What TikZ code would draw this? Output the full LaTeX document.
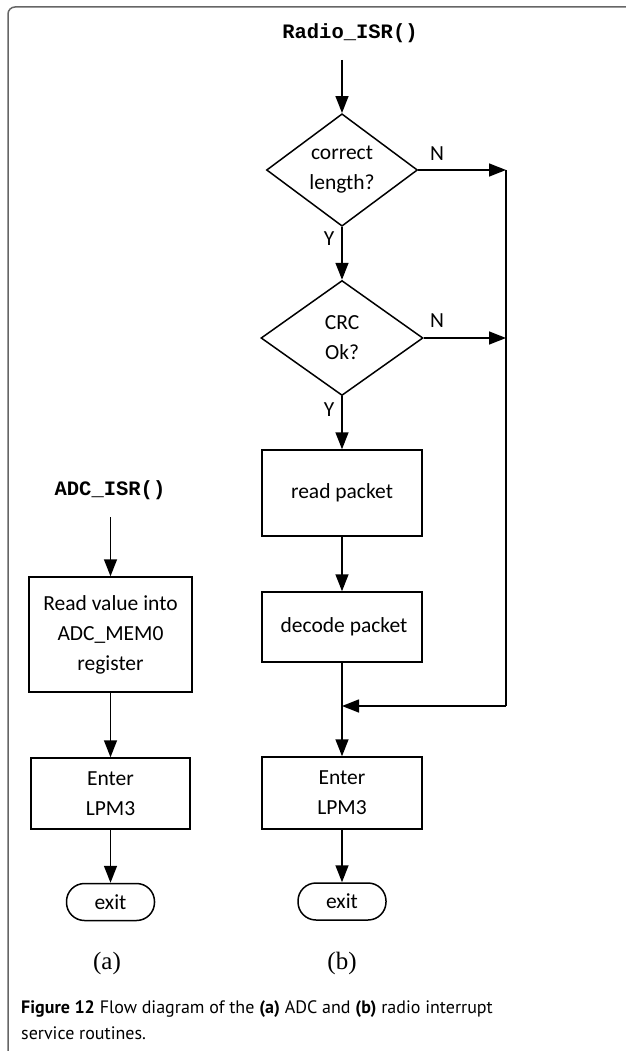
\documentclass[tikz,border=0pt]{standalone}
\usepackage{fontspec}
\setmainfont{Carlito}
\newfontfamily\capfont{PT Sans}
\newfontfamily\monofont{Liberation Mono}
\newfontfamily\serffont{Liberation Serif}
\usetikzlibrary{shapes.geometric,arrows.meta}
\begin{document}
\begin{tikzpicture}[x=1pt,y=-1pt,
  every node/.style={font=\fontsize{21.5}{30}\selectfont},
  ln/.style={line width=1.5pt},
  arr/.style={ln,-{Triangle[length=17pt,width=13pt]}},
  boxn/.style={draw,ln,rectangle,inner sep=0pt,align=center},
  dia/.style={draw,ln,diamond,inner sep=0pt,align=center},
  exitn/.style={draw,ln,rectangle,rounded corners=18pt,inner sep=0pt,minimum width=88pt,minimum height=37pt},
  titlen/.style={font=\monofont\bfseries\fontsize{20.5}{24}\selectfont},
  lbl/.style={font=\fontsize{21.5}{24}\selectfont},
  sub/.style={font=\serffont\fontsize{25}{28}\selectfont},
  capn/.style={font=\capfont\fontsize{18}{20}\selectfont,anchor=base west,inner sep=0pt}]
\useasboundingbox (0,0) rectangle (625,1051);
% frame
\draw[line width=1.5pt,color=black!60] (8,1060) -- (8,14) arc[start angle=180,end angle=90,radius=7pt] -- (630,7);
% (b) radio
\node[titlen] (rt) at (350,33) {Radio\_ISR()};
\coordinate (rs) at (342,60);
\node[dia,minimum width=151pt,minimum height=107pt] (d1) at (342,170) {correct\\length?};
\node[dia,minimum width=162pt,minimum height=115pt] (d2) at (342,338) {CRC\\Ok?};
\node[boxn,minimum width=160pt,minimum height=86pt] (rp) at (342,493) {read packet};
\node[boxn,minimum width=160pt,minimum height=70pt] (dp) at (342,627) {\hspace*{4pt}decode packet};
\node[boxn,minimum width=160pt,minimum height=72pt] (eb) at (342,793) {Enter\\LPM3};
\node[exitn] (xb) at (342,901.5) {exit};
\node[sub] (lb) at (342,963) {(b)};
\coordinate (j1) at (506,170);
\coordinate (j2) at (506,338);
\coordinate (j3) at (506,706);
\coordinate (m) at (342,706);
\draw[arr] (rs) -- (d1.north);
\draw[arr] (d1.south) -- (d2.north);
\draw[arr] (d2.south) -- (rp.north);
\draw[arr] (rp.south) -- (dp.north);
\draw[ln] (dp.south) -- (m);
\draw[arr] (m) -- (eb.north);
\draw[arr] (eb.south) -- (xb.north);
\draw[arr] (d1.east) -- (j1);
\draw[arr] (d2.east) -- (j2);
\draw[ln] (j1) -- (j3);
\draw[arr] (j3) -- (m);
\node[lbl] (n1) at (437,154) {N};
\node[lbl] (n2) at (437,321) {N};
\node[lbl] (y1) at (329,239) {Y};
\node[lbl] (y2) at (329,410) {Y};
% (a) ADC
\node[titlen] (at) at (110,490) {ADC\_ISR()};
\coordinate (as) at (110.5,517);
\node[boxn,minimum width=163pt,minimum height=115pt] (ra) at (110.5,634.5) {Read value into\\ADC\_MEM0\\register};
\node[boxn,minimum width=159pt,minimum height=71pt] (ea) at (110.5,793.5) {Enter\\LPM3};
\node[exitn] (xa) at (110.5,902) {exit};
\node[sub] (la) at (107,963) {(a)};
\draw[arr] (as) -- (ra.north);
\draw[arr] (ra.south) -- (ea.north);
\draw[arr] (ea.south) -- (xa.north);
% caption
\node[capn] (c1) at (21,1013) {\textbf{Figure 12} Flow diagram of the \textbf{(a)} ADC and \textbf{(b)} radio interrupt};
\node[capn] (c2) at (21,1039) {service routines.};
\end{tikzpicture}
\end{document}
